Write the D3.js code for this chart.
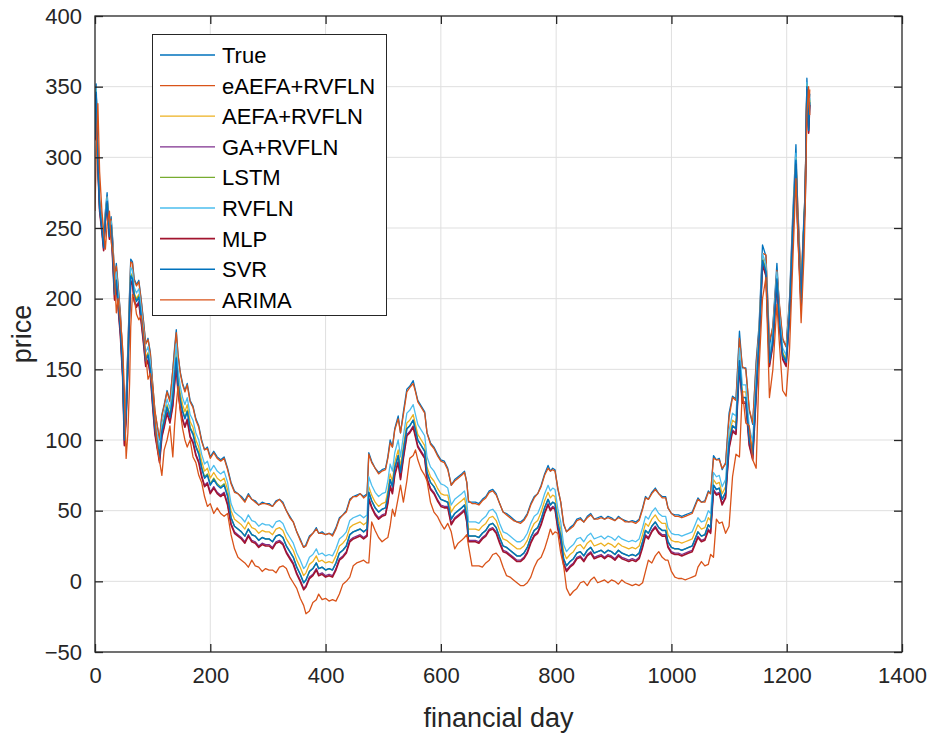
<!DOCTYPE html>
<html>
<head>
<meta charset="utf-8">
<script src="https://cdn.jsdelivr.net/npm/d3@7"></script>
<style>
  html, body { margin: 0; padding: 0; background: #fff; }
  svg { display: block; }
  text { font-family: "Liberation Sans", Arial, Helvetica, sans-serif; }
</style>
</head>
<body>
<svg id="chart" width="928" height="734"></svg>
<script>
// ---------------- data ----------------
const xTicks = [0, 200, 400, 600, 800, 1000, 1200, 1400];
const yTicks = [-50, 0, 50, 100, 150, 200, 250, 300, 350, 400];
const xLabel = "financial day";
const yLabel = "price";
const seriesNames = ["True", "eAEFA+RVFLN", "AEFA+RVFLN", "GA+RVFLN", "LSTM", "RVFLN", "MLP", "SVR", "ARIMA"];
const seriesColors = ["#0072BD", "#D95319", "#EDB120", "#7E2F8E", "#77AC30", "#4DBEEE", "#A2142F", "#0072BD", "#D95319"];

const days = [
  0,2,5,8,12,15,18,21,25,28,
  31,34,37,40,44,48,51,54,57,60,62,65,68,72,76,80,84,88,92,96,100,104,108,112,116,120,125,130,
  135,138,141,144,148,152,156,160,165,170,175,180,185,190,195,200,206,212,218,224,230,
  236,242,248,254,260,266,272,278,284,290,296,302,308,314,320,326,332,338,344,350,356,362,366,372,378,384,388,394,400,406,412,418,424,430,436,442,448,454,460,466,472,
  475,480,486,492,498,504,508,512,516,520,526,530,535,541,546,552,556,560,566,572,576,582,588,594,600,606,
  612,618,624,630,636,641,645,648,654,660,666,672,678,684,690,696,702,708,714,720,726,732,738,744,750,756,762,768,774,780,786,790,794,798,803,808,813,818,824,830,836,842,848,854,860,866,872,878,884,890,896,902,908,914,920,926,932,938,944,950,955,960,966,972,978,984,990,994,1000,1006,1012,1018,1024,1030,1036,1042,1046,1052,1058,1064,1068,
  1073,1078,1083,1088,1094,1100,1106,1112,1118,1123,1129,1135,1141,1147,
  1152,1158,1164,1170,1176,1183,1187,1193,1199,1205,1210,1216,1219,1225,
  1230,1232,1235,1238,1240
];

const trueVals = [
  320,352,300,270,255,242,262,275,250,258,
  240,215,225,210,190,160,112,130,165,205,228,226,214,210,213,200,185,168,172,162,140,120,110,100,118,125,135,128,
  150,165,178,160,148,140,135,140,128,124,115,110,100,93,95,88,92,88,86,88,80,
  70,64,62,60,57,62,58,57,54,56,55,55,53,57,58,56,50,46,42,35,30,24,26,32,34,38,34,35,33,34,33,38,45,47,50,58,60,61,62,60,62,
  91,85,80,77,79,80,88,100,95,108,117,105,120,136,138,142,135,128,124,120,105,98,95,90,86,85,
  80,68,72,74,76,78,70,56,56,56,55,58,60,64,65,62,55,49,48,46,44,42,42,44,48,55,60,62,68,76,82,78,80,79,65,56,40,35,38,40,44,45,42,46,48,44,45,46,44,46,45,43,46,44,43,42,43,42,44,52,60,58,63,66,62,60,60,52,48,47,47,46,47,48,49,55,59,56,57,64,62,
  89,86,87,79,84,119,131,129,177,151,151,121,111,156,
  181,238,230,166,181,225,196,171,166,201,255,309,265,208,
  260,275,356,325,345
];

const eaefaVals = [
  318,342,302,268,254,241,260,272,251,256,
  239,216,223,209,189,162,115,129,163,203,226,225,213,209,212,199,184,168,171,161,140,121,110,101,117,124,134,127,
  149,163,176,161,147,139,134,139,127,123,114,109,99,93,94,87,91,87,85,87,79,
  69,63,62,59,56,61,58,56,54,55,55,54,53,56,58,55,50,45,42,35,29,24,25,31,34,37,34,34,33,34,32,37,44,47,49,57,60,60,62,59,61,
  90,84,80,76,78,79,87,98,95,107,115,105,118,134,137,140,134,127,123,119,105,97,94,89,85,84,
  79,68,71,73,75,77,70,57,55,55,54,57,59,63,64,61,55,49,47,45,43,42,41,43,47,54,59,62,67,75,80,78,79,78,66,56,41,35,37,39,43,44,42,45,47,44,44,45,44,45,44,43,45,44,42,42,42,41,43,51,59,58,62,65,62,59,59,52,48,46,46,45,46,47,48,54,58,56,56,63,62,
  87,86,86,80,83,116,130,128,172,152,150,122,112,153,
  178,232,231,170,180,220,198,172,166,198,250,300,268,212,
  255,278,350,328,348
];

const aefaVals = [
  315,347,295,265,250,237,257,270,245,253,
  230,205,215,200,180,150,102,120,155,195,218,216,204,200,203,190,175,158,162,152,130,110,100,90,108,115,125,118,
  135,150,163,145,133,125,120,125,113,109,100,95,85,78,80,73,77,73,71,73,65,
  50,44,42,40,37,42,38,37,34,36,35,35,33,37,38,36,30,26,22,15,10,4,6,12,14,18,14,15,13,14,13,18,25,27,30,38,40,41,42,40,42,
  67,61,56,53,55,56,64,76,71,84,93,81,96,112,114,118,111,104,100,96,81,74,71,66,62,61,
  61,49,53,55,57,59,51,37,37,37,36,39,41,45,46,43,36,30,29,27,25,23,23,25,29,36,41,43,49,57,63,59,61,60,46,37,21,16,19,21,25,26,23,27,29,25,26,27,25,27,26,24,27,25,24,23,24,23,25,33,41,39,44,47,43,41,41,33,29,28,28,27,28,29,30,36,40,37,38,45,43,
  72,69,70,62,67,102,114,112,160,134,134,104,94,139,
  172,229,221,157,172,216,187,162,157,192,246,300,256,199,
  255,270,351,320,340
];

const gaVals = [
  313,345,293,263,248,235,255,268,243,251,
  225,200,210,195,175,145,97,115,150,190,213,211,199,195,198,185,170,153,157,147,125,105,95,85,103,110,120,113,
  125,140,153,135,123,115,110,115,103,99,90,85,75,68,70,63,67,63,61,63,55,
  41,35,33,31,28,33,29,28,25,27,26,26,24,28,29,27,21,17,13,6,1,-5,-3,3,5,9,5,6,4,5,4,9,16,18,21,29,31,32,33,31,33,
  59,53,48,45,47,48,56,68,63,76,85,73,88,104,106,110,103,96,92,88,73,66,63,58,54,53,
  53,41,45,47,49,51,43,29,29,29,28,31,33,37,38,35,28,22,21,19,17,15,15,17,21,28,33,35,41,49,55,51,53,52,38,29,13,8,11,13,17,18,15,19,21,17,18,19,17,19,18,16,19,17,16,15,16,15,17,25,33,31,36,39,35,33,33,25,21,20,20,19,20,21,22,28,32,29,30,37,35,
  65,62,63,55,60,95,107,105,153,127,127,97,87,132,
  168,225,217,153,168,212,183,158,153,188,242,296,252,195,
  253,268,349,318,338
];

const lstmVals = [
  316,348,296,266,251,238,258,271,246,254,
  229,204,214,199,179,149,101,119,154,194,217,215,203,199,202,189,174,157,161,151,129,109,99,89,107,114,124,117,
  131,146,159,141,129,121,116,121,109,105,96,91,81,74,76,69,73,69,67,69,61,
  45,39,37,35,32,37,33,32,29,31,30,30,28,32,33,31,25,21,17,10,5,-1,1,7,9,13,9,10,8,9,8,13,20,22,25,33,35,36,37,35,37,
  63,57,52,49,51,52,60,72,67,80,89,77,92,108,110,114,107,100,96,92,77,70,67,62,58,57,
  56,44,48,50,52,54,46,32,32,32,31,34,36,40,41,38,31,25,24,22,20,18,18,20,24,31,36,38,44,52,58,54,56,55,41,32,16,11,14,16,20,21,18,22,24,20,21,22,20,22,21,19,22,20,19,18,19,18,20,28,36,34,39,42,38,36,36,28,24,23,23,22,23,24,25,31,35,32,33,40,38,
  68,65,66,58,63,98,110,108,156,130,130,100,90,135,
  171,228,220,156,171,215,186,161,156,191,245,299,255,198,
  256,271,352,321,341
];

const rvflnVals = [
  317,349,297,267,252,239,259,272,247,255,
  234,209,219,204,184,154,106,124,159,199,222,220,208,204,207,194,179,162,166,156,134,114,104,94,112,119,129,122,
  140,155,168,150,138,130,125,130,118,114,105,100,90,83,85,78,82,78,76,78,70,
  55,49,47,45,42,47,43,42,39,41,40,40,38,42,43,41,35,31,27,20,15,9,11,17,19,23,19,20,18,19,18,23,30,32,35,43,45,46,47,45,47,
  74,68,63,60,62,63,71,83,78,91,100,88,103,119,121,125,118,111,107,103,88,81,78,73,69,68,
  66,54,58,60,62,64,56,42,42,42,41,44,46,50,51,48,41,35,34,32,30,28,28,30,34,41,46,48,54,62,68,64,66,65,51,42,26,21,24,26,30,31,28,32,34,30,31,32,30,32,31,29,32,30,29,28,29,28,30,38,46,44,49,52,48,46,46,38,34,33,33,32,33,34,35,41,45,42,43,50,48,
  77,74,75,67,72,107,119,117,165,139,139,109,99,144,
  175,232,224,160,175,219,190,165,160,195,249,303,259,202,
  257,272,353,322,342
];

const mlpVals = [
  312,344,292,262,247,234,254,267,242,250,
  224,199,209,194,174,144,96,114,149,189,212,210,198,194,197,184,169,152,156,146,124,104,94,84,102,109,119,112,
  124,139,152,134,122,114,109,114,102,98,89,84,74,67,69,62,66,62,60,62,54,
  40,34,32,30,27,32,28,27,24,26,25,25,23,27,28,26,20,16,12,5,0,-6,-4,2,4,8,4,5,3,4,3,8,15,17,20,28,30,31,32,30,32,
  58,52,47,44,46,47,55,67,62,75,84,72,87,103,105,109,102,95,91,87,72,65,62,57,53,52,
  52,40,44,46,48,50,42,28,28,28,27,30,32,36,37,34,27,21,20,18,16,14,14,16,20,27,32,34,40,48,54,50,52,51,37,28,12,7,10,12,16,17,14,18,20,16,17,18,16,18,17,15,18,16,15,14,15,14,16,24,32,30,35,38,34,32,32,24,20,19,19,18,19,20,21,27,31,28,29,36,34,
  64,61,62,54,59,94,106,104,152,126,126,96,86,131,
  167,224,216,152,167,211,182,157,152,187,241,295,251,194,
  252,267,348,317,337
];

const svrVals = [
  314,346,294,264,249,236,256,269,244,252,
  228,203,213,198,178,148,100,118,153,193,216,214,202,198,201,188,173,156,160,150,128,108,98,88,106,113,123,116,
  130,145,158,140,128,120,115,120,108,104,95,90,80,73,75,68,72,68,66,68,60,
  45,39,37,35,32,37,33,32,29,31,30,30,28,32,33,31,25,21,17,10,5,-1,1,7,9,13,9,10,8,9,8,13,20,22,25,33,35,36,37,35,37,
  63,57,52,49,51,52,60,72,67,80,89,77,92,108,110,114,107,100,96,92,77,70,67,62,58,57,
  56,44,48,50,52,54,46,32,32,32,31,34,36,40,41,38,31,25,24,22,20,18,18,20,24,31,36,38,44,52,58,54,56,55,41,32,16,11,14,16,20,21,18,22,24,20,21,22,20,22,21,19,22,20,19,18,19,18,20,28,36,34,39,42,38,36,36,28,24,23,23,22,23,24,25,31,35,32,33,40,38,
  68,65,66,58,63,98,110,108,156,130,130,100,90,135,
  170,227,219,155,170,214,185,160,155,190,244,298,254,197,
  254,269,350,319,339
];

const arimaVals = [
  262,300,338,290,262,248,235,252,262,240,
  233,215,190,200,185,165,135,87,105,140,180,203,201,189,185,188,175,160,143,147,137,115,95,85,75,93,100,110,
  88,110,125,138,120,108,100,95,100,88,84,75,70,60,53,55,48,52,48,46,48,
  33,23,17,15,13,10,15,11,10,7,9,8,8,6,10,11,9,3,-1,-5,-12,-17,-23,-21,-15,-13,-9,-13,-12,-14,-13,-14,-9,-2,0,3,11,13,14,15,13,
  13,42,36,31,28,30,31,39,51,46,59,68,56,71,87,89,93,86,79,75,71,56,49,46,41,37,
  41,35,23,27,29,31,33,25,11,11,11,10,13,15,19,20,17,10,4,3,1,-1,-3,-3,-1,3,10,15,17,23,31,37,33,35,34,20,11,-5,-10,-7,-5,-1,0,-3,1,3,-1,0,1,-1,1,0,-2,1,-1,-2,-3,-2,-3,-1,7,15,13,18,21,17,15,15,7,3,2,2,1,2,3,4,10,14,11,12,19,
  17,44,41,42,34,39,74,90,88,135,112,110,86,80,
  150,200,215,130,150,196,170,135,131,165,220,285,250,183,
  230,262,330,350,330
];

const seriesValues = [trueVals, eaefaVals, aefaVals, gaVals, lstmVals, rvflnVals, mlpVals, svrVals, arimaVals];
const seriesWidths = [1.3, 1.3, 1.3, 1.3, 1.3, 1.3, 1.6, 1.5, 1.3];

// ---------------- drawing ----------------
const W = 928, H = 734;
const L = 95, R = 902, T = 16, B = 652;
const axisColor = "#262626";

const svg = d3.select("#chart");
svg.append("rect").attr("width", W).attr("height", H).attr("fill", "#fff");

const x = d3.scaleLinear().domain([0, 1400]).range([L, R]);
const y = d3.scaleLinear().domain([-50, 400]).range([B, T]);

// grid
const grid = svg.append("g").attr("stroke", "#dfdfdf").attr("stroke-width", 1);
xTicks.slice(1, -1).forEach(t => {
  grid.append("line").attr("x1", x(t)).attr("x2", x(t)).attr("y1", T).attr("y2", B);
});
yTicks.slice(1, -1).forEach(t => {
  grid.append("line").attr("x1", L).attr("x2", R).attr("y1", y(t)).attr("y2", y(t));
});

// clip
svg.append("defs").append("clipPath").attr("id", "plotclip")
  .append("rect").attr("x", L).attr("y", T).attr("width", R - L).attr("height", B - T);

const lines = svg.append("g").attr("clip-path", "url(#plotclip)");
seriesValues.forEach((vals, s) => {
  const n = Math.min(vals.length, days.length);
  const pts = d3.range(n).map(i => [days[i], vals[i]]);
  const line = d3.line().x(d => x(d[0])).y(d => y(d[1]));
  lines.append("path")
    .attr("d", line(pts))
    .attr("fill", "none")
    .attr("stroke", seriesColors[s])
    .attr("stroke-width", seriesWidths[s])
    .attr("stroke-linejoin", "round");
});

// axes
const fontSize = 22;
const styleAxis = g => {
  g.select(".domain").remove();
  g.selectAll(".tick line").attr("stroke", axisColor).attr("stroke-width", 1.3);
  g.selectAll(".tick text").attr("fill", axisColor).attr("font-size", fontSize)
    .attr("font-family", '"Liberation Sans", Arial, Helvetica, sans-serif');
};

svg.append("g").attr("transform", `translate(0,${B})`)
  .call(d3.axisBottom(x).tickValues(xTicks).tickSizeInner(-8).tickSizeOuter(0).tickPadding(15).tickFormat(d3.format("d")))
  .call(styleAxis);
svg.append("g").attr("transform", `translate(0,${T})`)
  .call(d3.axisTop(x).tickValues(xTicks).tickSizeInner(-8).tickSizeOuter(0).tickFormat(""))
  .call(styleAxis);
svg.append("g").attr("transform", `translate(${L},0)`)
  .call(d3.axisLeft(y).tickValues(yTicks).tickSizeInner(-8).tickSizeOuter(0).tickPadding(13).tickFormat(d3.format("d")))
  .call(styleAxis);
svg.append("g").attr("transform", `translate(${R},0)`)
  .call(d3.axisRight(y).tickValues(yTicks).tickSizeInner(-8).tickSizeOuter(0).tickFormat(""))
  .call(styleAxis);

// box
svg.append("rect").attr("x", L).attr("y", T).attr("width", R - L).attr("height", B - T)
  .attr("fill", "none").attr("stroke", axisColor).attr("stroke-width", 1.3);

// axis labels
svg.append("text").attr("x", (L + R) / 2).attr("y", 727)
  .attr("text-anchor", "middle").attr("font-size", 27).attr("fill", axisColor).text(xLabel);
svg.append("text").attr("transform", `translate(31,${(T + B) / 2}) rotate(-90)`)
  .attr("text-anchor", "middle").attr("font-size", 27).attr("fill", axisColor).text(yLabel);

// legend
const lg = svg.append("g");
lg.append("rect").attr("x", 152.5).attr("y", 34.5).attr("width", 234).attr("height", 281)
  .attr("fill", "#fff").attr("stroke", axisColor).attr("stroke-width", 1);
seriesNames.forEach((name, i) => {
  const cy = 55 + i * 30.6;
  lg.append("line").attr("x1", 160).attr("x2", 215).attr("y1", cy).attr("y2", cy)
    .attr("stroke", seriesColors[i]).attr("stroke-width", seriesWidths[i]);
  lg.append("text").attr("x", 222).attr("y", cy + 8).attr("font-size", fontSize)
    .attr("fill", "#000").text(name);
});
</script>
</body>
</html>
